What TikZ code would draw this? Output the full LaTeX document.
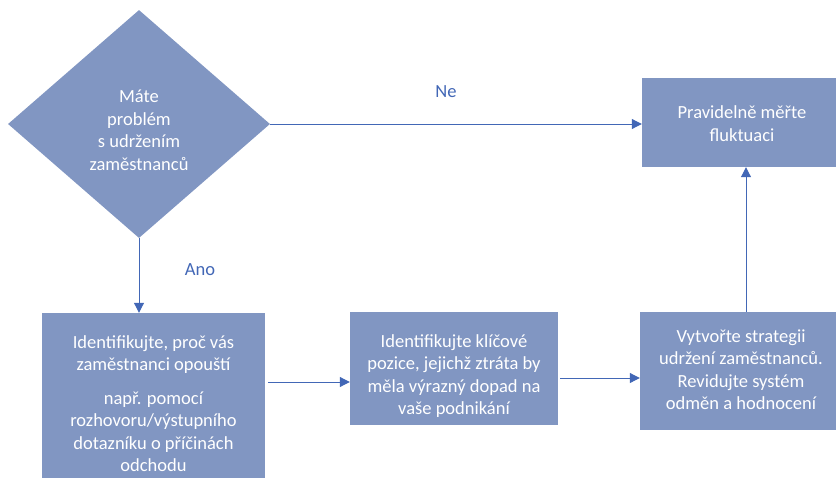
\documentclass[tikz,border=0pt]{standalone}
\usepackage{fontspec}
\setmainfont{Carlito}
\usetikzlibrary{shapes.geometric,arrows.meta}
\definecolor{boxfill}{RGB}{129,150,194}
\definecolor{linkblue}{RGB}{66,103,182}
% lower a centred text block by half of the given amount
\newcommand{\lowerby}[2]{\raisebox{0pt}[\dimexpr\height+#1\relax][\depth]{\begin{tabular}{@{}c@{}}#2\end{tabular}}}
\tikzset{
  every node/.style={font=\fontsize{18.5}{22.5}\selectfont},
  stepbox/.style={rectangle, fill=boxfill, text=white, align=center, inner sep=0pt},
  decision/.style={diamond, fill=boxfill, text=white, align=center, inner sep=0pt,
    minimum width=262pt, minimum height=228pt},
  flow/.style={draw=linkblue, line width=1pt, -{Triangle[length=10pt,width=10pt]}},
  tag/.style={text=linkblue},
}
\begin{document}
\begin{tikzpicture}[x=1pt,y=-1pt]
  \useasboundingbox (0,0) rectangle (836,477);
  \clip (0,0) rectangle (836,477);

  % decision diamond
  \node[decision] (ask) at (139,124)
    {\lowerby{16pt}{Máte\\problém\\s udržením\\zaměstnanců}};

  % process boxes
  \node[stepbox, minimum width=223pt, minimum height=177pt] (why) at (153.5,401.5)
    {\lowerby{8pt}{Identifikujte, proč vás\\zaměstnanci opouští\\[11pt]např. pomocí\\rozhovoru/výstupního\\dotazníku o příčinách\\odchodu}};
  \node[stepbox, minimum width=208pt, minimum height=113pt] (key) at (454,368.5)
    {\lowerby{16pt}{Identifikujte klíčové\\pozice, jejichž ztráta by\\měla výrazný dopad na\\vaše podnikání}};
  \node[stepbox, minimum width=202pt, minimum height=118pt] (plan) at (741,371)
    {\lowerby{1pt}{Vytvořte strategii\\udržení zaměstnanců.\\Revidujte systém\\odměn a hodnocení}};
  \node[stepbox, minimum width=200pt, minimum height=89pt] (measure) at (742,122.5)
    {\lowerby{6pt}{Pravidelně měřte\\fluktuaci}};

  % connectors
  \draw[flow] (ask.south) -- (ask.south |- why.north);
  \draw[flow] (ask.east) -- (ask.east -| measure.west);
  \draw[flow] ([xshift=3pt]why.east |- 0,382) -- (key.west |- 0,382);
  \draw[flow] ([xshift=2pt]key.east |- 0,378) -- (plan.west |- 0,378);
  \draw[flow] ([xshift=5pt]plan.north) -- ([xshift=5pt]plan.north |- measure.south);

  % branch labels
  \node[tag] (no) at (446,92) {Ne};
  \node[tag] (yes) at (200,270) {Ano};
\end{tikzpicture}
\end{document}
